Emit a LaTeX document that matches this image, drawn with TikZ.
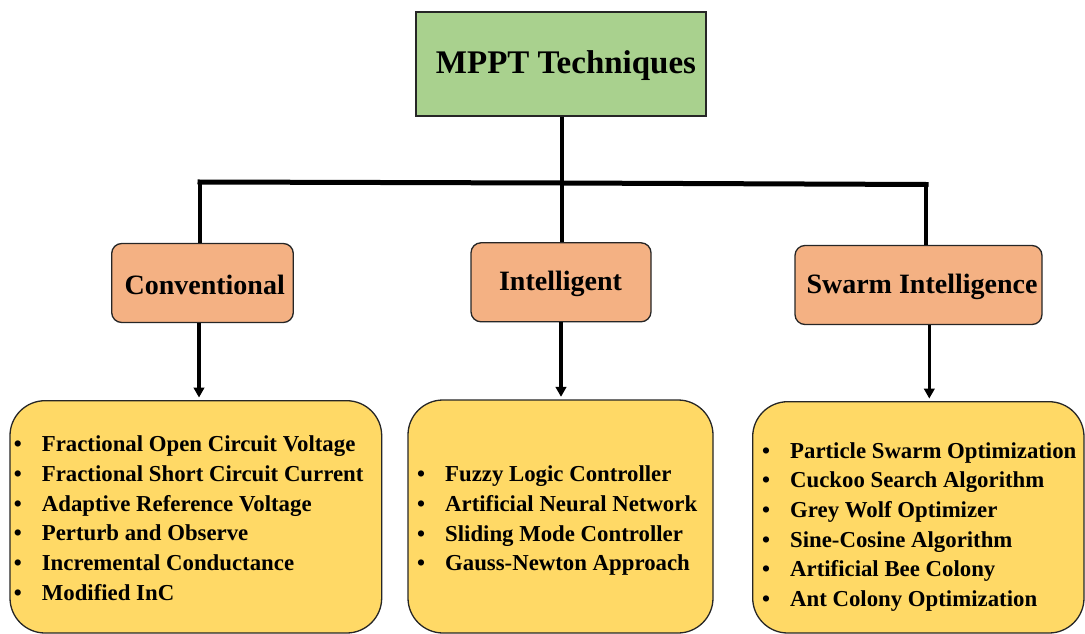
\documentclass[tikz,border=0pt]{standalone}
\usepackage{fontspec}
\setmainfont{Liberation Serif}
\usetikzlibrary{arrows.meta}
\definecolor{techgreen}{HTML}{A9D18E}
\definecolor{catorange}{HTML}{F4B183}
\definecolor{listyellow}{HTML}{FFD966}

\begin{document}
\begin{tikzpicture}[x=1pt,y=-1pt,
  rootbox/.style={draw=black!85,line width=1.6pt,fill=techgreen,
    minimum width=290pt,minimum height=104pt,inner sep=0pt},
  catbox/.style={draw=black!85,line width=1.3pt,fill=catorange,
    rounded corners=10pt,minimum height=79pt,inner sep=0pt},
  listbox/.style={draw=black!85,line width=1.3pt,fill=listyellow,
    rounded corners=35pt,inner sep=0pt},
  roottext/.style={font=\fontsize{33}{40}\selectfont\bfseries,inner sep=0pt,anchor=base},
  cattext/.style={font=\fontsize{28}{34}\selectfont\bfseries,inner sep=0pt,anchor=base},
  listtext/.style={font=\fontsize{22.8}{29.7}\selectfont\bfseries,inner sep=0pt,
    anchor=north west,align=left},
  stem/.style={line width=4pt},
  bar/.style={line width=5pt,line cap=rect},
  downarrow/.style={line width=3.2pt,-{Triangle[length=10pt,width=10.5pt]},shorten >=2.5pt},
]
\useasboundingbox (0,0) rectangle (1085,634);

% root of the tree
\node[rootbox] (root) at (560.85,63.85) {};
\node[roottext] (roottitle) at (566,74) {MPPT Techniques};

% three families
\node[catbox,minimum width=181.6pt] (conv) at (202.5,283) {};
\node[cattext] (convtitle) at (204.7,294) {Conventional};
\node[catbox,minimum width=180pt] (intel) at (561,282.3) {};
\node[cattext] (inteltitle) at (560.5,290) {Intelligent};
\node[catbox,minimum width=247pt] (swarm) at (918.5,285) {};
\node[cattext] (swarmtitle) at (922,293) {Swarm Intelligence};

% lists of methods
\node[listbox,minimum width=371.7pt,minimum height=232.3pt] (convlist) at (195.85,516.85) {};
\node[listbox,minimum width=305pt,minimum height=233pt] (intellist) at (560.5,516.5) {};
\node[listbox,minimum width=331.3pt,minimum height=231.3pt] (swarmlist) at (918.35,517.35) {};

\node[listtext] (convitems) at (13.7,430.9) {%
\begin{tabular}{@{}l@{\hspace{20pt}}l@{}}
\textbullet & Fractional Open Circuit Voltage\\
\textbullet & Fractional Short Circuit Current\\
\textbullet & Adaptive Reference Voltage\\
\textbullet & Perturb and Observe\\
\textbullet & Incremental Conductance\\
\textbullet & Modified InC
\end{tabular}};

\node[listtext] (intelitems) at (417,460.9) {%
\begin{tabular}{@{}l@{\hspace{20pt}}l@{}}
\textbullet & Fuzzy Logic Controller\\
\textbullet & Artificial Neural Network\\
\textbullet & Sliding Mode Controller\\
\textbullet & Gauss-Newton Approach
\end{tabular}};

\node[listtext] (swarmitems) at (762,437.2) {%
\begin{tabular}{@{}l@{\hspace{20pt}}l@{}}
\textbullet & Particle Swarm Optimization\\
\textbullet & Cuckoo Search Algorithm\\
\textbullet & Grey Wolf Optimizer\\
\textbullet & Sine-Cosine Algorithm\\
\textbullet & Artificial Bee Colony\\
\textbullet & Ant Colony Optimization
\end{tabular}};

% branching connectors
\coordinate (barL) at (200,182);
\coordinate (barM) at (561.5,183);
\coordinate (barR) at (926,184.5);
\draw[stem] (root.south -| barM) -- (barM);
\draw[bar] (barL) -- (barM) -- (barR);
\draw[stem] (barL) -- (barL |- conv.north);
\draw[stem] (barM) -- (barM |- intel.north);
\draw[stem] (barR) -- (barR |- swarm.north);

% arrows down to the lists
\draw[downarrow] ([xshift=-3.5pt]conv.south) -- ([xshift=-3.5pt]conv.south |- convlist.north);
\draw[downarrow] (intel.south) -- (intel.south |- intellist.north);
\draw[downarrow] ([xshift=10.8pt]swarm.south) -- ([xshift=10.8pt]swarm.south |- swarmlist.north);
\end{tikzpicture}
\end{document}
